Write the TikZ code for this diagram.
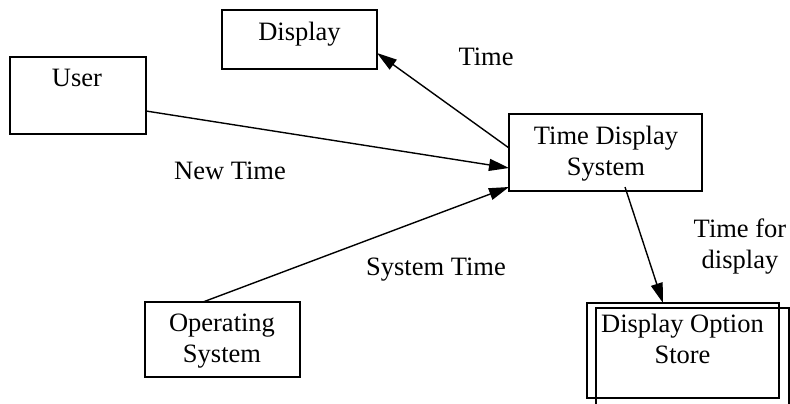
\documentclass[tikz,border=0pt]{standalone}
\usepackage{fontspec}
\setmainfont{Liberation Serif}
\usetikzlibrary{arrows.meta,calc}
\begin{document}
\begin{tikzpicture}[x=1pt,y=-1pt,
  box/.style={draw, line width=1.8pt, inner sep=0pt, outer sep=0pt},
  frame/.style={line width=1.8pt},
  lbl/.style={inner sep=0pt, font=\fontsize{26.5}{30.5}\selectfont, align=center},
  flow/.style={line width=1.4pt, -{Triangle[length=20pt,width=12pt]}}]

\fill[white] (0,0) rectangle (790,404);
\useasboundingbox (0,0) rectangle (790,404);

% external entities, process and store
\node[box, minimum width=155pt, minimum height=59pt] (display) at (299.5,39.5) {};
\node[box, minimum width=136pt, minimum height=77pt] (user) at (78,95.5) {};
\node[box, minimum width=193pt, minimum height=77pt] (tds) at (605.5,152.5) {};
\node[box, minimum width=155pt, minimum height=75pt] (os) at (222.5,339.5) {};
\node[box, minimum width=192pt, minimum height=95pt] (dos) at (683,350.5) {};
% second frame of the store, running off the bottom edge
\draw[frame] (596,404) |- (789,308) -- (789,404);

% box texts, set at the top of each box
\node[lbl, anchor=base] (userlbl) at (77,87) {User};
\node[lbl, anchor=base] (displaylbl) at (299.5,41) {Display};
\node[lbl, anchor=north] (tdslbl) at (606,126) {Time Display\\System};
\node[lbl, anchor=north] (oslbl) at (222,314) {Operating\\System};
\node[lbl, anchor=north] (doslbl) at (682.5,314) {Display Option\\Store};

% data flow names
\node[lbl, anchor=base] (ltime) at (486,66) {Time};
\node[lbl, anchor=base] (lnew) at (230,179) {New Time};
\node[lbl, anchor=base] (lsys) at (436,275) {System Time};
\node[lbl, anchor=north] (lfor) at (740,219) {Time for\\display};

% data flows
\draw[flow] ($(tds.west)+(0,-4.5)$) -- ($(display.east)+(0,13.5)$);
\draw[flow] ($(user.east)+(0,15.5)$) -- ($(tds.west)+(0,15.5)$);
\draw[flow] ($(os.north)+(-19.5,0)$) -- ($(tds.west)+(0,34.5)$);
\draw[flow] ($(tds.south)+(19.5,-4)$) -- ($(dos.north)+(-20,0)$);
\end{tikzpicture}
\end{document}
